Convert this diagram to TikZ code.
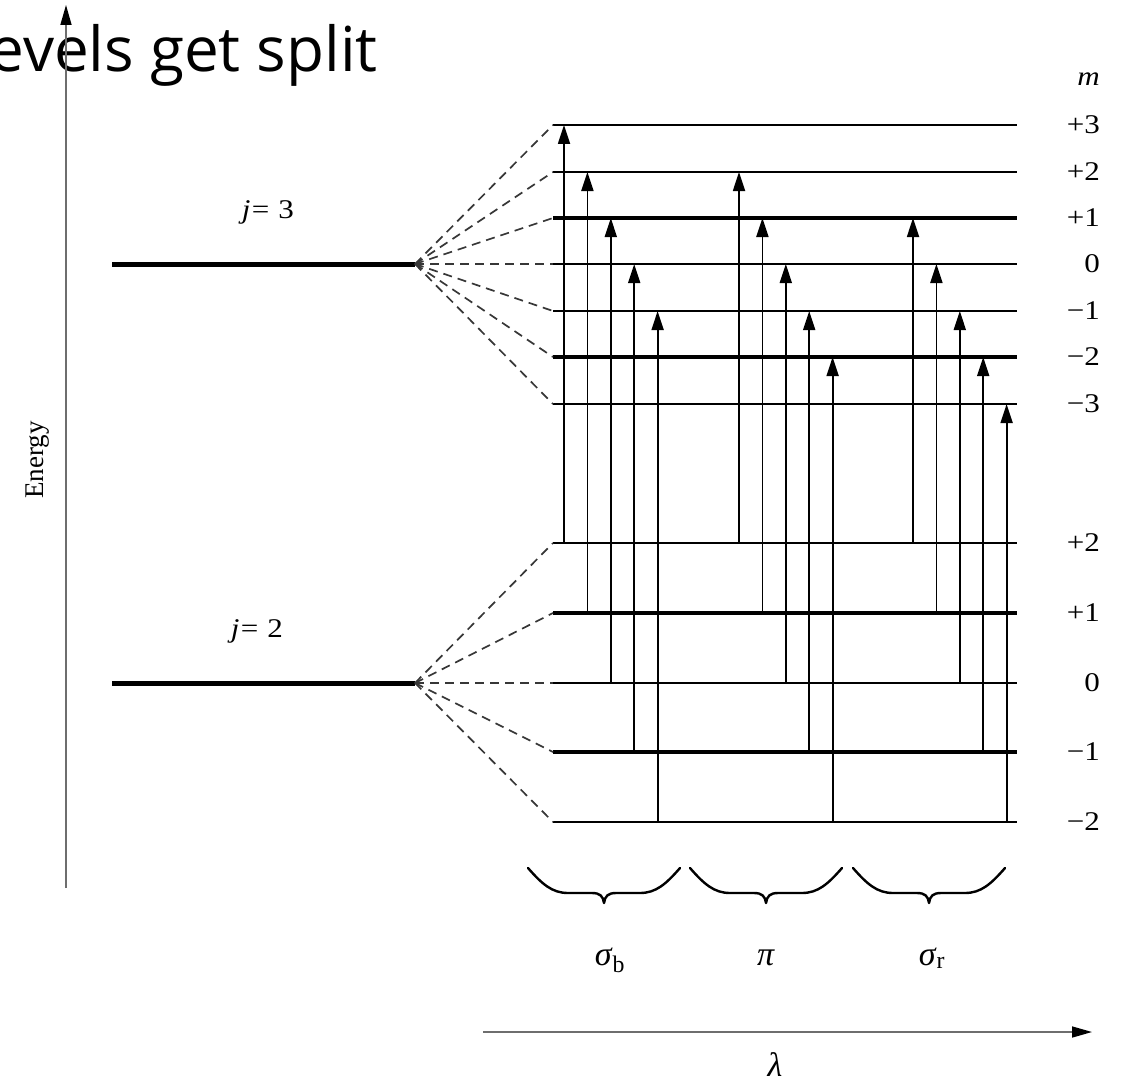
\documentclass[tikz,border=0pt]{standalone}
\usepackage{graphicx}
\usepackage{fontspec}
\setmainfont{Liberation Serif}
\newfontfamily\titlefont{Open Sans}
\usetikzlibrary{arrows.meta, calc}
\definecolor{axisgray}{RGB}{110,110,110}
\definecolor{fangray}{RGB}{55,55,55}
\newcommand{\widelbl}[1]{\scalebox{1.15}[1]{#1}}

\begin{document}
\begin{tikzpicture}[
  x=1pt, y=-1pt,
  jlvl/.style={line width=5pt},
  fan/.style={dash pattern=on 9pt off 6pt, line width=1.7pt, fangray},
  trans/.style={line width=1.8pt, -{Triangle[length=19pt,width=12pt]}},
  axis/.style={axisgray, line width=1.6pt, -{Triangle[length=20pt,width=11pt,color=black]}},
  brc/.style={line width=2.4pt, line cap=round, line join=round},
  greek/.style={font=\fontsize{34}{40}\selectfont},
  every node/.style={font=\fontsize{27}{32}\selectfont, inner sep=0pt}
]
  \useasboundingbox (0,0) rectangle (1123,1086);

  % Title, cut at the left edge
  \node[font=\titlefont\fontsize{62}{70}\selectfont, anchor=base east] (title)
       at (378,72) {levels get split};

  % Energy axis
  \coordinate (eS) at (66,888);
  \coordinate (eE) at (66,5);
  \draw[axis] (eS) -- (eE);
  \node[rotate=90] (energy) at (38,460) {Energy};

  % Unsplit levels
  \coordinate (j3L) at (112,264); \coordinate (j3R) at (415,264);
  \coordinate (j2L) at (112,683); \coordinate (j2R) at (415,683);
  \draw[jlvl] (j3L) -- (j3R);
  \draw[jlvl] (j2L) -- (j2R);
  \node[anchor=base] (j3) at (268,218) {\widelbl{\textit{j}\kern1pt=\kern8pt3}};
  \node[anchor=base] (j2) at (257,637) {\widelbl{\textit{j}\kern1pt=\kern8pt2}};

  % Split levels, j = 3
  \node[anchor=east] (mhead) at (1100,79) {\widelbl{\textit{m}}};
  \foreach \m/\y/\w/\t in {3/125/2/+3, 2/172/2/+2, 1/218/3.5/+1, 0/264/2/0,
                           -1/311/2/−1, -2/357/3.5/−2, -3/404/2/−3}{
    \coordinate (u\m) at (553,\y);
    \coordinate (uR\m) at (1017,\y);
    \draw[line width=\w pt] (u\m) -- (uR\m);
    \draw[fan] (j3R) -- (u\m);
    \node[anchor=east] (mu\m) at (1100,\y) {\widelbl{\t}};
  }

  % Split levels, j = 2
  \foreach \m/\y/\w/\t in {2/543/2/+2, 1/613/3.5/+1, 0/683/2/0,
                           -1/752/3.5/−1, -2/822/2/−2}{
    \coordinate (l\m) at (553,\y);
    \coordinate (lR\m) at (1017,\y);
    \draw[line width=\w pt] (l\m) -- (lR\m);
    \draw[fan] (j2R) -- (l\m);
    \node[anchor=east] (ml\m) at (1100,\y) {\widelbl{\t}};
  }

  % Transitions: sigma_b, pi, sigma_r
  \foreach \dm/\x in {1/564, 0/739, -1/913}{
    \foreach \i in {0,...,4}{
      \pgfmathtruncatemacro\mlo{2-\i}
      \pgfmathtruncatemacro\mup{\mlo+\dm}
      \pgfmathsetmacro\dx{\x+23.4*\i-553}
      \draw[trans] ($(l\mlo)+(\dx,0)$) -- ($(u\mup)+(\dx,0)$);
    }
  }

  % Braces under the three groups
  \foreach \xs in {528, 690, 853}{
    \draw[brc, shift={(\xs,868)}]
      (0,0) .. controls (14,16) and (24,25) .. (40,25) -- (64,25)
            .. controls (72,25) and (75,28) .. (76,35)
            .. controls (77,28) and (80,25) .. (88,25) -- (112,25)
            .. controls (128,25) and (138,16) .. (152,0);
  }
  \node[greek, anchor=base] (sb) at (610,965) {\textit{σ}\textsubscript{b}};
  \node[greek, anchor=base] (pi) at (766,965) {\textit{π}};
  \node[greek, anchor=base] (sr) at (932,965) {\textit{σ}\textsubscript{r}};

  % Wavelength axis
  \coordinate (lamS) at (483,1032);
  \coordinate (lamE) at (1092,1032);
  \draw[axis] (lamS) -- (lamE);
  \node[greek, anchor=base] (lam) at (775,1076) {\textit{λ}};
\end{tikzpicture}
\end{document}
